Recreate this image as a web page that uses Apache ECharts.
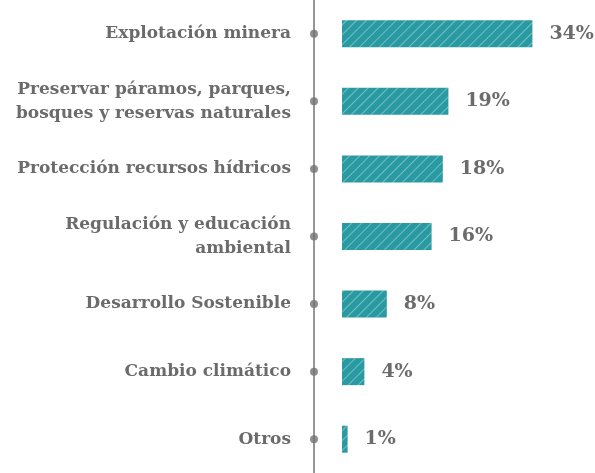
<!DOCTYPE html>
<html>
<head>
<meta charset="utf-8">
<script src="https://cdn.jsdelivr.net/npm/echarts@6/dist/echarts.min.js"></script>
<style>
  html, body { margin: 0; padding: 0; background: #fff; }
  #main { width: 595px; height: 473px; }
</style>
</head>
<body>
<div id="main"></div>
<script>
const categories = [
  'Explotación minera',
  'Preservar páramos, parques,\nbosques y reservas naturales',
  'Protección recursos hídricos',
  'Regulación y educación\nambiental',
  'Desarrollo Sostenible',
  'Cambio climático',
  'Otros'
]
const values = [34, 19, 18, 16, 8, 4, 1]

const textGray = '#6b6b6b'
const axisGray = '#979797'
const dotGray = '#727272'
const teal = '#2a9aa2'
const font = 'DejaVu Serif'

const chart = echarts.init(document.getElementById('main'))

// axis line sits at x = -5, bars start at 0
const option = {
  animation: false,
  grid: { left: 314, right: 29, top: 0, bottom: -3 },
  xAxis: {
    type: 'value',
    min: -5,
    max: 40,
    show: false
  },
  yAxis: {
    type: 'category',
    data: categories,
    inverse: true,
    axisLine: { show: true, onZero: false, lineStyle: { color: axisGray, width: 2 } },
    axisTick: { show: false },
    axisLabel: {
      margin: 23,
      color: textGray,
      fontFamily: font,
      fontWeight: 'bold',
      fontSize: 17,
      lineHeight: 24,
      align: 'right'
    }
  },
  series: [
    {
      type: 'bar',
      data: values,
      barWidth: 27,
      itemStyle: {
        color: teal,
        decal: {
          symbol: 'rect',
          dashArrayX: [1, 0],
          dashArrayY: [1, 5.5],
          rotation: -Math.PI / 4,
          color: 'rgba(255,255,255,0.35)'
        }
      },
      label: {
        show: true,
        position: 'right',
        distance: 17,
        color: textGray,
        fontFamily: font,
        fontWeight: 'bold',
        fontSize: 19,
        formatter: p => p.value + '%'
      }
    },
    {
      type: 'scatter',
      data: categories.map(c => [-5, c]),
      symbol: 'circle',
      symbolSize: 8,
      itemStyle: { color: dotGray },
      z: 5
    }
  ]
}

chart.setOption(option)
</script>
</body>
</html>
